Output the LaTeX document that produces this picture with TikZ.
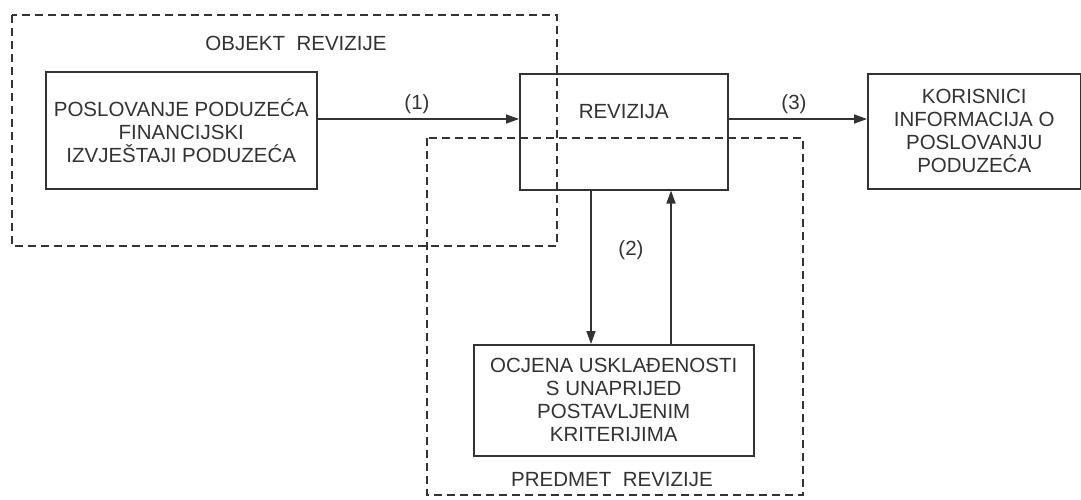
\documentclass[tikz,border=0pt]{standalone}
\usepackage{fontspec}
\setmainfont{Liberation Sans}
\usetikzlibrary{arrows.meta}
\definecolor{ink}{HTML}{333333}
\begin{document}
\begin{tikzpicture}[x=1pt,y=-1pt,
  box/.style={draw=ink, line width=1.5pt, rectangle, inner sep=0pt, align=center, text=ink, font=\fontsize{20.5}{23}\selectfont, anchor=north west},
  frame/.style={draw=ink, line width=1.3pt, dash pattern=on 8pt off 5pt},
  lbl/.style={text=ink, font=\fontsize{20.5}{23}\selectfont, inner sep=0pt},
  arr/.style={draw=ink, line width=1.5pt, -{Triangle[length=13pt,width=9pt]}}]
\useasboundingbox (0,0) rectangle (1081,499);
\fill[white] (0,0) rectangle (1081,499);
% frames
\draw[frame] (12,15) rectangle (557,246);
\draw[frame] (427,138) rectangle (803,495);
\node[lbl] (objt) at (296,43) {OBJEKT\ \ REVIZIJE};
\node[lbl] (predt) at (612,480) {PREDMET\ \ REVIZIJE};
% boxes
\node[box, minimum width=271, minimum height=117] (L) at (45,71) {POSLOVANJE PODUZEĆA\\FINANCIJSKI\\IZVJEŠTAJI PODUZEĆA};
\node[box, minimum width=208, minimum height=116] (R) at (519,73) {};
\node[lbl] (Rt) at (R.center |- 0,112) {REVIZIJA};
\node[box, minimum width=213, minimum height=115] (K) at (867,73) {KORISNICI\\INFORMACIJA O\\POSLOVANJU\\PODUZEĆA};
\node[box, minimum width=280, minimum height=111] (B) at (473,344) {OCJENA USKLAĐENOSTI\\S UNAPRIJED\\POSTAVLJENIM\\KRITERIJIMA};
% arrow levels
\coordinate (a1) at (0,119);
\coordinate (d2) at (591,0);
\coordinate (u2) at (671,0);
% connectors
\draw[arr] (L.east |- a1) -- (R.west |- a1);
\draw[arr] (R.east |- a1) -- (K.west |- a1);
\draw[arr] (R.south -| d2) -- (B.north -| d2);
\draw[arr] (B.north -| u2) -- (R.south -| u2);
% labels
\node[lbl] (l1) at (417,104) {(1)};
\node[lbl] (l3) at (794,104) {(3)};
\node[lbl] (l2) at (631,250) {(2)};
\end{tikzpicture}
\end{document}
